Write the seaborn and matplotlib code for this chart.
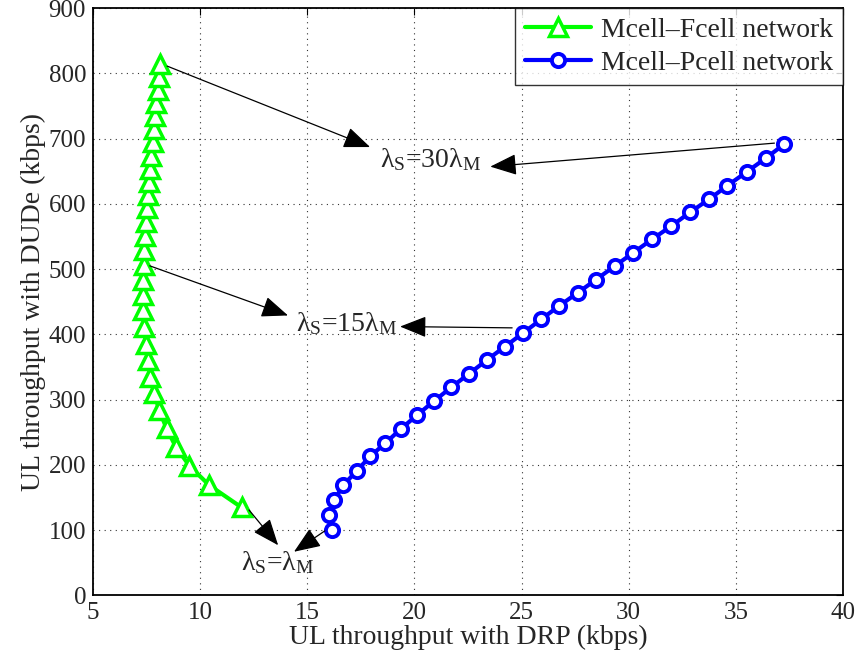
import numpy as np
import pandas as pd
import seaborn as sns
from matplotlib import pyplot as plt

# Mcell-Fcell network (lambda_S = 1..30 lambda_M)
fcell_drp = [11.93, 10.42, 9.49, 8.86, 8.43, 8.09, 7.85, 7.68, 7.57, 7.46,
             7.37, 7.34, 7.33, 7.34, 7.37, 7.40, 7.43, 7.47, 7.52, 7.57,
             7.62, 7.67, 7.72, 7.78, 7.84, 7.90, 7.96, 8.02, 8.07, 8.12]
fcell_dude = [135, 169, 199, 228, 256, 284, 310, 335, 361, 386,
              412, 437, 461, 484, 507, 529, 551, 572, 593, 614,
              634, 654, 674, 694, 714, 734, 754, 774, 794, 814]

# Mcell-Pcell network
pcell_drp = [16.17, 16.01, 16.25, 16.68, 17.31, 17.93, 18.63, 19.36, 20.11, 20.92,
             21.72, 22.56, 23.39, 24.21, 25.07, 25.91, 26.77, 27.63, 28.48, 29.36,
             30.21, 31.10, 31.99, 32.86, 33.75, 34.61, 35.51, 36.40, 37.24]
pcell_dude = [100, 123, 146, 169, 191, 213, 233, 255, 276, 298,
              319, 340, 361, 381, 402, 423, 444, 464, 484, 505,
              525, 546, 566, 587, 607, 628, 649, 670, 691]

labels = ['Mcell\u2013Fcell network', 'Mcell\u2013Pcell network']
x_ticks = [5, 10, 15, 20, 25, 30, 35, 40]
y_ticks = [0, 100, 200, 300, 400, 500, 600, 700, 800, 900]

# annotation texts: (text, x, y) and arrows: (tail, tip)
notes = [('$\\mathregular{λ_S}$=30$\\mathregular{λ_M}$', 18.4, 656),
         ('$\\mathregular{λ_S}$=15$\\mathregular{λ_M}$', 14.45, 405),
         ('$\\mathregular{λ_S}$=$\\mathregular{λ_M}$', 11.9, 39)]
arrows = [((8.46, 811), (17.93, 687)), ((36.8, 693), (23.54, 657)),
          ((7.65, 505), (14.1, 429)), ((24.56, 410), (19.33, 412)),
          ((12.28, 131), (13.64, 77)), ((15.82, 99), (14.38, 67))]

sns.set_style('white')
plt.rcParams['font.family'] = ['Liberation Serif', 'DejaVu Serif']
plt.rcParams['mathtext.fontset'] = 'stix'

fig = plt.figure(figsize=(8.58, 6.67), dpi=100)
ax = fig.add_axes([0.1084, 0.1072, 0.8741, 0.8808])

df_f = pd.DataFrame({'drp': fcell_drp, 'dude': fcell_dude})
df_p = pd.DataFrame({'drp': pcell_drp, 'dude': pcell_dude})

sns.lineplot(data=df_f, x='drp', y='dude', sort=False, estimator=None, ax=ax,
             color='#00ff00', linewidth=3, marker='^', markersize=13,
             markerfacecolor='white', markeredgecolor='#00ff00', markeredgewidth=2.5,
             label=labels[0])
sns.lineplot(data=df_p, x='drp', y='dude', sort=False, estimator=None, ax=ax,
             color='#0000ff', linewidth=3, marker='o', markersize=9.5,
             markerfacecolor='white', markeredgecolor='#0000ff', markeredgewidth=2.8,
             label=labels[1])

for (tail, tip) in arrows:
    ax.annotate('', xy=tip, xytext=tail,
                arrowprops=dict(arrowstyle='-|>,head_length=0.75,head_width=0.3',
                                color='black', lw=0.9, shrinkA=0, shrinkB=0,
                                mutation_scale=22))
for (txt, x, y) in notes:
    ax.text(x, y, txt, fontsize=20, ha='left', va='baseline')

ax.set_xlim(5, 40)
ax.set_ylim(0, 900)
ax.set_xticks(x_ticks)
ax.set_yticks(y_ticks)
ax.tick_params(direction='in', length=5, width=0.8, labelsize=18, top=True, right=True,
               color='black', pad=5)
ax.grid(True, linestyle=(0, (1, 4)), color='#333333', linewidth=0.8)
for s in ax.spines.values():
    s.set_color('black')
    s.set_linewidth(1.3)
ax.set_xlabel('UL throughput with DRP (kbps)', fontsize=20, labelpad=0)
ax.set_ylabel('UL throughput with DUDe (kbps)', fontsize=20, labelpad=2)

leg = ax.legend(loc='upper right', fontsize=20, frameon=True, fancybox=False,
                edgecolor='black', borderaxespad=0, handlelength=2.4,
                borderpad=0.35, labelspacing=0.25, handletextpad=0.35)
leg.get_frame().set_linewidth(1.0)

fig.savefig('out.png', dpi=100)
